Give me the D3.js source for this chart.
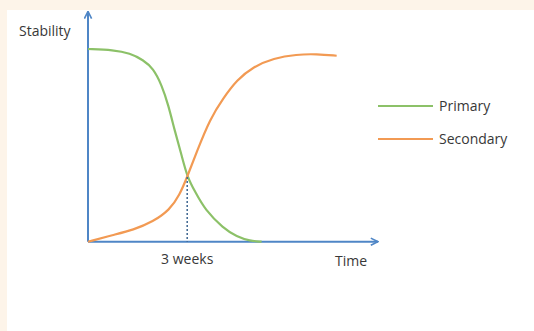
<!DOCTYPE html>
<html>
<head>
<meta charset="utf-8">
<script src="https://cdn.jsdelivr.net/npm/d3@7"></script>
<style>
  html, body { margin: 0; padding: 0; background: #fdf4e9; }
  #chart { position: absolute; left: 7px; top: 10px; width: 527px; height: 321px; background: #fff; }
  svg { position: absolute; left: 0; top: 0; }
</style>
</head>
<body>
<div id="chart"></div>
<script>
// weeks vs stability (0-100)
const primaryWeeks = [0, 0.77, 1.27, 1.67, 1.97, 2.23, 2.43, 2.63, 2.83, 3.0, 3.24, 3.54, 4.09, 4.5, 4.9, 5.25];
const primaryValues = [100, 99.5, 97.8, 94.3, 90.0, 81.3, 70.9, 57.1, 45.0, 33.6, 25.9, 16.5, 7.0, 2.6, 0.4, 0];
const secondaryWeeks = [0, 0.76, 1.37, 1.97, 2.47, 2.77, 3.0, 3.29, 3.69, 4.09, 4.5, 5.0, 5.61, 6.31, 6.91, 7.52];
const secondaryValues = [0, 3.5, 6.1, 10.4, 16.5, 24.2, 33.6, 46.7, 63.7, 74.4, 83.9, 90.8, 95.2, 97.2, 97.4, 96.5];
const markWeek = 3;
const markLabel = "3 weeks";
const seriesNames = ["Primary", "Secondary"];
const seriesColors = ["#8cc168", "#f29a53"];

window.onload = function () {
  const width = 534, height = 331;
  const svg = d3.select("body").append("svg")
    .attr("width", width)
    .attr("height", height);

  const axisColor = "#4f86c6";
  const textColor = "#383838";
  const font = "Open Sans, sans-serif";
  const fontSize = "14px";

  const xMax = 8.77;
  const x = d3.scaleLinear().domain([0, xMax]).range([88, 378]);
  const y = d3.scaleLinear().domain([0, 100]).range([241.7, 49]);
  const yTop = 119.5;

  // arrow head
  svg.append("defs").append("marker")
    .attr("id", "arrow")
    .attr("viewBox", "0 0 10 10")
    .attr("refX", 9).attr("refY", 5)
    .attr("markerWidth", 9).attr("markerHeight", 9)
    .attr("markerUnits", "userSpaceOnUse")
    .attr("orient", "auto")
    .append("path")
    .attr("d", "M1,1 L9,5 L1,9")
    .attr("fill", "none")
    .attr("stroke", axisColor)
    .attr("stroke-width", 1.8);

  // axes
  svg.append("line")
    .attr("x1", x(0)).attr("y1", y(0))
    .attr("x2", x(0)).attr("y2", y(yTop))
    .attr("stroke", axisColor).attr("stroke-width", 2)
    .attr("marker-end", "url(#arrow)");
  svg.append("line")
    .attr("x1", x(0)).attr("y1", y(0))
    .attr("x2", x(xMax)).attr("y2", y(0))
    .attr("stroke", axisColor).attr("stroke-width", 2)
    .attr("marker-end", "url(#arrow)");

  // series (smoothed)
  const line = d3.line()
    .x((d) => x(d[0]))
    .y((d) => y(d[1]))
    .curve(d3.curveBasis);

  const series = [
    d3.zip(primaryWeeks, primaryValues),
    d3.zip(secondaryWeeks, secondaryValues),
  ];

  series.forEach((pts, i) => {
    svg.append("path")
      .datum(pts)
      .attr("d", line)
      .attr("fill", "none")
      .attr("stroke", seriesColors[i])
      .attr("stroke-width", 2.2);
  });

  // dotted drop line at crossing
  const crossVal = primaryValues[primaryWeeks.indexOf(markWeek)];
  svg.append("line")
    .attr("x1", x(markWeek)).attr("y1", y(crossVal))
    .attr("x2", x(markWeek)).attr("y2", y(0))
    .attr("stroke", "#3d6590").attr("stroke-width", 1.5)
    .attr("stroke-dasharray", "2,2");

  // labels
  svg.append("text")
    .attr("x", x(markWeek)).attr("y", y(0) + 22)
    .attr("text-anchor", "middle")
    .attr("font-family", font).attr("font-size", fontSize)
    .attr("fill", textColor)
    .text(markLabel);

  svg.append("text")
    .attr("x", 335).attr("y", y(0) + 24)
    .attr("font-family", font).attr("font-size", fontSize)
    .attr("fill", textColor)
    .text("Time");

  svg.append("text")
    .attr("x", 19).attr("y", 36)
    .attr("font-family", font).attr("font-size", fontSize)
    .attr("fill", textColor)
    .text("Stability");

  // legend
  const legend = svg.append("g").attr("transform", "translate(378, 106)");
  seriesNames.forEach((name, i) => {
    const g = legend.append("g").attr("transform", `translate(0, ${i * 33})`);
    g.append("line")
      .attr("x1", 0).attr("x2", 55)
      .attr("y1", 0).attr("y2", 0)
      .attr("stroke", seriesColors[i]).attr("stroke-width", 2.2);
    g.append("text")
      .attr("x", 61).attr("y", 5)
      .attr("font-family", font).attr("font-size", fontSize)
      .attr("fill", textColor)
      .text(name);
  });
};
</script>
</body>
</html>
